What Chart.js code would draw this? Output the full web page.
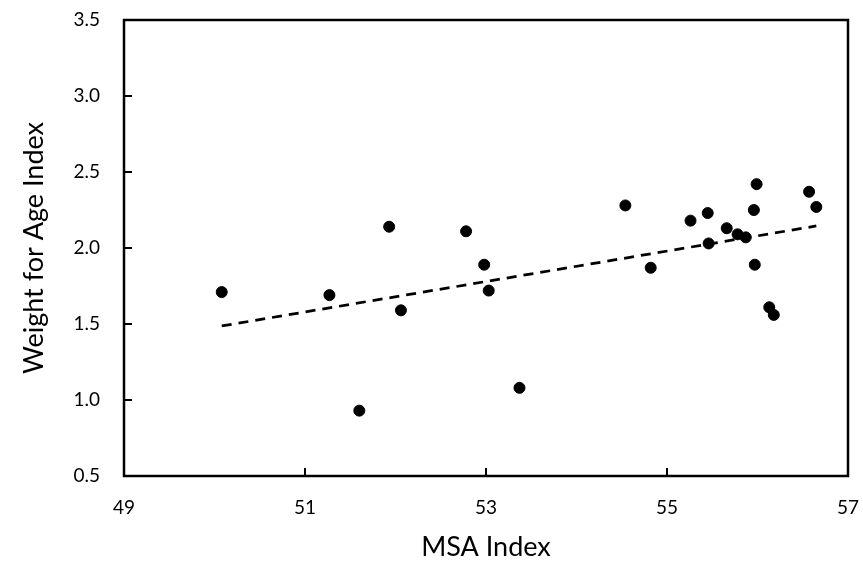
<!DOCTYPE html>
<html lang="en">
<head>
<meta charset="UTF-8">
<title>Weight for Age vs MSA</title>
<style>
  body { margin: 0; padding: 0; background: #fff; }
  #wrap { width: 863px; height: 563px; }
</style>
</head>
<body>
<div id="wrap"><canvas id="myChart" width="863" height="563"></canvas></div>
<script src="https://cdn.jsdelivr.net/npm/chart.js@4.4.1/dist/chart.umd.min.js"></script>
<script>
// MSA index (x) and weight-for-age index (y) per sample
const msa = [50.08, 51.27, 51.60, 51.93, 52.06, 52.78, 52.98, 53.03, 53.37, 54.54,
             54.82, 55.26, 55.45, 55.46, 55.66, 55.78, 55.87, 55.96, 55.97, 55.99,
             56.13, 56.18, 56.57, 56.65];
const wfa = [1.71, 1.69, 0.93, 2.14, 1.59, 2.11, 1.89, 1.72, 1.08, 2.28,
             1.87, 2.18, 2.23, 2.03, 2.13, 2.09, 2.07, 2.25, 1.89, 2.42,
             1.61, 1.56, 2.37, 2.27];

// linear trend end points
const trendX = [50.08, 56.65];
const trendY = [1.487, 2.145];

const xTicks = [49, 51, 53, 55, 57];
const yTicks = [0.5, 1.0, 1.5, 2.0, 2.5, 3.0, 3.5];

const FONT = "Lato, 'Open Sans', sans-serif";

// frame around the plot area plus inward tick marks
const framePlugin = {
  id: 'frame',
  afterDatasetsDraw(chart) {
    const { ctx, chartArea: a, scales } = chart;
    ctx.save();
    ctx.strokeStyle = '#000';
    ctx.lineWidth = 2.5;
    ctx.strokeRect(a.left, a.top, a.right - a.left, a.bottom - a.top);
    ctx.lineWidth = 2;
    ctx.beginPath();
    xTicks.slice(1, -1).forEach(v => {
      const px = scales.x.getPixelForValue(v);
      ctx.moveTo(px, a.bottom);
      ctx.lineTo(px, a.bottom - 8);
    });
    yTicks.slice(1, -1).forEach(v => {
      const py = scales.y.getPixelForValue(v);
      ctx.moveTo(a.left, py);
      ctx.lineTo(a.left + 8, py);
    });
    ctx.stroke();
    ctx.restore();
  }
};

const points = msa.map((x, i) => ({ x: x, y: wfa[i] }));
const trend = trendX.map((x, i) => ({ x: x, y: trendY[i] }));

new Chart(document.getElementById('myChart'), {
  type: 'scatter',
  data: {
    datasets: [
      {
        label: 'Samples',
        data: points,
        backgroundColor: '#000',
        borderColor: '#000',
        pointRadius: 5.5,
        pointHoverRadius: 5.5
      },
      {
        label: 'Linear trend',
        type: 'line',
        data: trend,
        borderColor: '#000',
        borderWidth: 2.75,
        borderDash: [10, 7],
        pointRadius: 0,
        fill: false
      }
    ]
  },
  options: {
    responsive: false,
    animation: false,
    layout: { padding: { top: 20, right: 15, left: 0, bottom: 0 } },
    plugins: {
      legend: { display: false },
      tooltip: { enabled: false }
    },
    scales: {
      x: {
        type: 'linear',
        min: 49, max: 57,
        afterBuildTicks(s) { s.ticks = xTicks.map(v => ({ value: v })); },
        afterFit(s) { s.height = 87; s.paddingLeft = 0; s.paddingRight = 0; },
        grid: { display: false, drawTicks: false },
        border: { display: false },
        ticks: { color: '#000', padding: 20, font: { family: FONT, size: 19 } },
        title: {
          display: true, text: 'MSA Index', color: '#000',
          font: { family: FONT, size: 27 }, padding: { top: 4, bottom: 0 }
        }
      },
      y: {
        type: 'linear',
        min: 0.5, max: 3.5,
        afterBuildTicks(s) { s.ticks = yTicks.map(v => ({ value: v })); },
        afterFit(s) { s.width = 124; s.paddingTop = 0; s.paddingBottom = 0; },
        grid: { display: false, drawTicks: false },
        border: { display: false },
        ticks: {
          color: '#000', padding: 24, font: { family: FONT, size: 19 },
          callback: v => v.toFixed(1)
        },
        title: {
          display: true, text: 'Weight for Age Index', color: '#000',
          font: { family: FONT, size: 27 }, padding: { top: 18, bottom: 0 }
        }
      }
    }
  },
  plugins: [framePlugin]
});
</script>
</body>
</html>
